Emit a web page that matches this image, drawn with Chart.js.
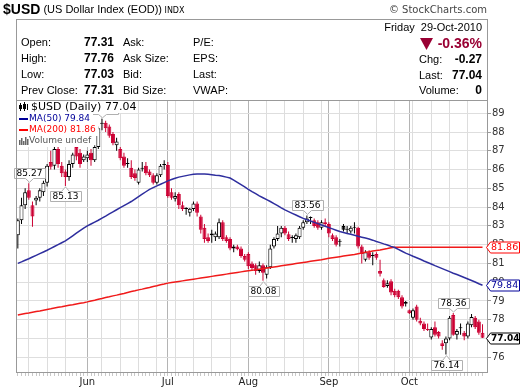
<!DOCTYPE html>
<html>
<head>
<meta charset="utf-8">
<script src="https://cdn.jsdelivr.net/npm/chart.js@4.4.0/dist/chart.umd.min.js"></script>
<style>
  html, body { margin: 0; padding: 0; background: #fff; }
  canvas { display: block; }
</style>
</head>
<body>
<canvas id="chart" width="520" height="391"></canvas>
<script>
// trading days, May 5 - Oct 29 2010
const dates = [
  'May 5','May 6','May 7','May 10','May 11','May 12','May 13','May 14','May 17','May 18',
  'May 19','May 20','May 21','May 24','May 25','May 26','May 27','May 28','May 31',
  'Jun 1','Jun 2','Jun 3','Jun 4','Jun 7','Jun 8','Jun 9','Jun 10','Jun 11','Jun 14','Jun 15',
  'Jun 16','Jun 17','Jun 18','Jun 21','Jun 22','Jun 23','Jun 24','Jun 25','Jun 28','Jun 29','Jun 30',
  'Jul 1','Jul 2','Jul 5','Jul 6','Jul 7','Jul 8','Jul 9','Jul 12','Jul 13','Jul 14',
  'Jul 15','Jul 16','Jul 19','Jul 20','Jul 21','Jul 22','Jul 23','Jul 26','Jul 27','Jul 28','Jul 29','Jul 30',
  'Aug 2','Aug 3','Aug 4','Aug 5','Aug 6','Aug 9','Aug 10','Aug 11','Aug 12','Aug 13',
  'Aug 16','Aug 17','Aug 18','Aug 19','Aug 20','Aug 23','Aug 24','Aug 25','Aug 26','Aug 27','Aug 30','Aug 31',
  'Sep 1','Sep 2','Sep 3','Sep 6','Sep 7','Sep 8','Sep 9','Sep 10','Sep 13','Sep 14',
  'Sep 15','Sep 16','Sep 17','Sep 20','Sep 21','Sep 22','Sep 23','Sep 24','Sep 27','Sep 28','Sep 29','Sep 30',
  'Oct 1','Oct 4','Oct 5','Oct 6','Oct 7','Oct 8','Oct 11','Oct 12','Oct 13','Oct 14',
  'Oct 15','Oct 18','Oct 19','Oct 20','Oct 21','Oct 22','Oct 25','Oct 26','Oct 27','Oct 28','Oct 29'
];

const opens = [
  82.5,83.3,84.1,84.9,84.1,84.35,84.5,84.8,85.3,86.4,
  86.2,87.1,86.2,85.9,85.6,86.3,87.2,86.9,86.5,86.6,
  86.9,86.5,87.2,88.45,88.5,88.3,87.9,87.3,87.1,86.7,
  86.3,86.1,85.8,85.3,86.1,86.2,85.9,85.7,85.3,85.7,
  86.3,86.25,84.8,84.45,84.7,84.1,83.95,83.7,83.9,84.2,
  83.5,82.9,82.4,82.6,82.4,82.4,83.2,82.4,82.3,81.8,
  81.9,81.8,81.4,81.5,81.0,80.9,80.6,80.9,80.4,80.8,
  81.9,82.3,82.6,82.9,82.55,82.4,82.3,82.4,82.9,83.2,
  83.45,83.3,83.2,82.9,83.2,83.1,82.5,82.4,82.2,83.0,
  82.8,82.7,82.9,82.9,81.9,81.2,81.6,81.45,81.5,80.6,
  80.1,79.8,80.05,79.55,79.55,79.2,78.85,78.5,78.1,78.7,
  77.95,77.8,77.5,77.05,77.6,77.35,76.75,76.75,77.0,78.25,
  77.2,77.6,77.3,77.1,77.7,78.1,77.9,77.31
];
const highs = [
  83.4,84.5,85.0,85.27,84.3,84.6,85.0,85.4,86.3,87.0,
  87.2,87.25,86.4,86.0,86.5,86.9,87.4,87.1,86.8,87.0,
  87.1,87.3,88.3,88.71,88.6,88.4,88.0,87.7,87.2,86.9,
  86.6,86.5,86.0,86.1,86.4,86.4,86.0,85.8,85.8,86.3,
  86.5,86.4,85.0,84.8,84.8,84.3,84.0,83.95,84.3,84.3,
  83.6,83.1,82.6,82.8,82.7,83.4,83.3,82.5,82.4,82.0,
  82.0,81.9,81.5,81.6,81.1,81.0,81.1,81.0,80.9,82.0,
  82.4,83.0,83.0,83.0,82.7,82.5,82.6,83.0,83.3,83.56,
  83.5,83.4,83.3,83.3,83.4,83.2,82.6,82.5,82.3,83.1,
  83.0,83.0,83.2,82.95,82.0,81.7,81.7,81.6,81.6,81.2,
  80.2,80.1,80.15,79.65,79.6,79.3,79.0,78.55,78.6,78.8,
  78.1,77.9,77.8,77.6,77.9,77.4,76.9,77.1,78.2,78.36,
  77.5,77.8,77.4,77.9,78.3,78.2,78.0,77.76
];
const lows = [
  81.8,83.1,83.9,84.4,82.95,84.1,84.3,84.6,85.1,86.0,
  86.0,86.1,85.6,85.13,85.4,86.1,86.5,86.1,86.4,86.4,
  86.2,86.4,87.1,88.1,88.0,87.7,87.3,87.0,86.5,86.1,
  86.1,85.5,85.4,85.2,85.9,85.7,85.6,85.2,85.2,85.6,
  86.0,84.5,84.4,84.3,83.9,83.8,83.6,83.5,83.8,83.5,
  82.6,82.1,82.1,82.1,82.2,82.3,82.2,82.1,81.7,81.6,
  81.7,81.3,81.1,80.7,80.6,80.4,80.5,80.08,80.2,80.7,
  81.8,82.2,82.4,82.5,82.2,82.1,82.1,82.3,82.8,83.1,
  83.1,82.9,82.8,82.8,83.0,82.4,82.2,81.9,81.9,82.7,
  82.6,82.6,82.6,81.8,81.0,81.1,81.2,80.9,81.2,80.3,
  79.7,79.7,79.3,79.2,79.1,78.6,78.7,78.3,78.0,77.9,
  77.7,77.4,77.4,76.95,77.1,77.0,76.4,76.14,76.9,77.15,
  76.95,77.2,76.9,77.0,77.6,77.5,77.2,77.03
];
const closes = [
  83.3,84.1,84.8,84.5,83.5,84.5,84.9,85.3,86.2,86.15,
  87.1,86.3,85.8,85.6,86.3,86.8,86.7,86.3,86.7,86.8,
  86.5,87.2,88.2,88.5,88.2,87.8,87.4,87.5,86.6,86.2,
  86.35,85.6,85.55,86.0,86.05,85.8,85.7,85.3,85.7,86.2,
  86.25,84.6,84.5,84.6,84.1,83.9,83.9,83.92,84.2,83.7,
  82.8,82.3,82.2,82.5,82.6,83.2,82.3,82.2,81.8,81.9,
  81.75,81.4,81.2,80.85,80.75,80.6,80.9,80.5,80.8,81.8,
  82.3,82.6,82.9,82.6,82.3,82.35,82.5,82.9,83.2,83.4,
  83.42,83.0,82.9,83.2,83.1,82.6,82.3,82.0,82.15,82.8,
  82.85,82.9,82.95,81.9,81.5,81.6,81.3,81.4,81.3,80.45,
  79.75,79.95,79.45,79.3,79.2,78.7,78.95,78.35,78.5,78.0,
  77.8,77.5,77.45,77.5,77.2,77.1,76.6,77.0,78.1,77.2,
  77.4,77.55,77.1,77.8,78.15,77.6,77.31,77.04
];

const ma50 = [
  81.00,81.08,81.17,81.25,81.34,81.43,81.52,81.61,81.70,81.80,
  81.90,82.00,82.10,82.20,82.33,82.47,82.61,82.75,82.88,83.00,
  83.10,83.20,83.30,83.41,83.52,83.64,83.75,83.86,83.97,84.08,
  84.19,84.30,84.43,84.56,84.69,84.82,84.95,85.04,85.13,85.22,
  85.31,85.40,85.47,85.54,85.60,85.64,85.68,85.72,85.75,85.77,
  85.77,85.76,85.75,85.73,85.70,85.68,85.65,85.60,85.55,85.44,
  85.32,85.20,85.08,84.95,84.83,84.72,84.60,84.50,84.40,84.30,
  84.19,84.08,83.96,83.85,83.76,83.67,83.58,83.49,83.40,83.33,
  83.26,83.19,83.12,83.05,82.98,82.91,82.84,82.77,82.70,82.65,
  82.60,82.55,82.50,82.45,82.40,82.35,82.30,82.24,82.17,82.11,
  82.04,81.98,81.91,81.85,81.75,81.65,81.55,81.47,81.38,81.30,
  81.22,81.13,81.05,80.97,80.88,80.80,80.72,80.64,80.56,80.48,
  80.41,80.33,80.25,80.17,80.09,80.01,79.92,79.84
];
const ma200 = [
  78.25,78.29,78.33,78.36,78.40,78.44,78.47,78.51,78.55,78.58,
  78.62,78.66,78.69,78.73,78.77,78.80,78.84,78.88,78.91,78.95,
  79.00,79.04,79.09,79.13,79.18,79.22,79.27,79.31,79.36,79.40,
  79.45,79.50,79.54,79.59,79.63,79.68,79.72,79.77,79.81,79.86,
  79.90,79.95,79.98,80.01,80.04,80.07,80.10,80.13,80.16,80.19,
  80.22,80.25,80.28,80.31,80.34,80.37,80.40,80.43,80.46,80.49,
  80.52,80.55,80.58,80.61,80.63,80.66,80.69,80.72,80.75,80.78,
  80.81,80.84,80.87,80.90,80.93,80.96,80.99,81.02,81.05,81.08,
  81.11,81.14,81.17,81.20,81.24,81.27,81.30,81.33,81.36,81.39,
  81.42,81.45,81.48,81.52,81.55,81.59,81.62,81.66,81.69,81.72,
  81.76,81.79,81.83,81.86,81.86,81.86,81.86,81.86,81.86,81.86,
  81.86,81.86,81.86,81.86,81.86,81.86,81.86,81.86,81.86,81.86,
  81.86,81.86,81.86,81.86,81.86,81.86,81.86,81.86
];

const yTicks = [76,77,78,79,80,81,82,83,84,85,86,87,88,89];

// swing high / low labels
const markIdx  = [23, 3, 13, 67, 79, 117, 119];
const markHigh = [true, true, false, false, true, false, true];

const RED = '#cc0033';
const monthNames = ['Jan','Feb','Mar','Apr','May','Jun','Jul','Aug','Sep','Oct','Nov','Dec'];

function dayInfo(i) {
  if (i < 0 || i >= dates.length) return null;
  const p = dates[i].split(' ');
  return { mon: p[0], dow: new Date(2010, monthNames.indexOf(p[0]), +p[1]).getDay() };
}
function isMonthStart(i) {
  if (i <= 0 || i >= dates.length) return false;
  return dayInfo(i).mon !== dayInfo(i - 1).mon;
}
function isMonday(i) {
  const d = dayInfo(i);
  return d && d.dow === 1;
}

const candleColor = closes.map((c, i) => (i > 0 && c < closes[i - 1]) ? RED : '#000');
const bodyFill = closes.map((c, i) => c < opens[i] ? candleColor[i] : '#fff');

const labels = dates.concat(['']);

const overlay = {
  id: 'overlay',
  beforeDraw(chart) {
    const ctx = chart.ctx;
    ctx.save();
    ctx.fillStyle = '#fff';
    ctx.fillRect(0, 0, chart.width, chart.height);

    // title line
    ctx.textBaseline = 'middle';
    ctx.textAlign = 'left';
    ctx.fillStyle = '#000';
    ctx.font = 'bold 14px "Liberation Sans"';
    ctx.fillText('$USD', 3, 10);
    let x = 3 + ctx.measureText('$USD').width;
    ctx.font = '11px "Liberation Sans"';
    ctx.fillText(' (US Dollar Index (EOD))', x, 10);
    x += ctx.measureText(' (US Dollar Index (EOD))').width;
    ctx.font = '8px "DejaVu Sans"';
    ctx.fillText(' INDX', x, 11);
    ctx.textAlign = 'right';
    ctx.fillStyle = '#444';
    ctx.font = '10px "DejaVu Sans"';
    ctx.fillText('\u00a9 StockCharts.com', 487, 10);

    // quote panel
    const rows = [
      ['Open:', '77.31', 'Ask:', 'P/E:'],
      ['High:', '77.76', 'Ask Size:', 'EPS:'],
      ['Low:', '77.03', 'Bid:', 'Last:'],
      ['Prev Close:', '77.31', 'Bid Size:', 'VWAP:']
    ];
    const rowY = [43, 59, 75, 91];
    rows.forEach((r, k) => {
      ctx.fillStyle = '#000';
      ctx.textAlign = 'left';
      ctx.font = '11px "Liberation Sans"';
      ctx.fillText(r[0], 21, rowY[k]);
      ctx.fillText(r[2], 123, rowY[k]);
      ctx.fillText(r[3], 193, rowY[k]);
      ctx.textAlign = 'right';
      ctx.font = 'bold 12px "Liberation Sans"';
      ctx.fillText(r[1], 114, rowY[k]);
    });

    ctx.textAlign = 'right';
    ctx.font = '11px "Liberation Sans"';
    ctx.fillStyle = '#000';
    ctx.fillText('Friday  29-Oct-2010', 482, 28);
    ctx.fillStyle = '#990033';
    ctx.font = 'bold 14px "Liberation Sans"';
    ctx.fillText('-0.36%', 482, 44);
    ctx.beginPath();
    ctx.moveTo(420, 38); ctx.lineTo(433, 38); ctx.lineTo(426.5, 50); ctx.closePath();
    ctx.fill();

    const right = [['Chg:', '-0.27', 60], ['Last:', '77.04', 76], ['Volume:', '0', 91]];
    right.forEach(r => {
      ctx.fillStyle = '#000';
      ctx.textAlign = 'left';
      ctx.font = '11px "Liberation Sans"';
      ctx.fillText(r[0], 419, r[2]);
      ctx.textAlign = 'right';
      ctx.font = 'bold 12px "Liberation Sans"';
      ctx.fillText(r[1], 482, r[2]);
    });
    ctx.restore();
  },
  afterDatasetsDraw(chart) {
    const ctx = chart.ctx;
    const ys = chart.scales.y;
    const pts = chart.getDatasetMeta(0).data;
    ctx.save();
    ctx.font = '9px "DejaVu Sans"';
    markIdx.forEach((i, k) => {
      const up = markHigh[k];
      const v = up ? highs[i] : lows[i];
      const txt = v.toFixed(2);
      const px = Math.round(pts[i].x) + 0.5;
      const py = ys.getPixelForValue(v);
      const w = Math.round(ctx.measureText(txt).width) + 5;
      const h = 10;
      const bx = Math.round(px - w / 2) + 0.5;
      const by = up ? Math.round(py - 5 - h) + 0.5 : Math.round(py + 5) + 0.5;
      ctx.beginPath();
      if (up) {
        ctx.moveTo(bx, by); ctx.lineTo(bx + w, by); ctx.lineTo(bx + w, by + h);
        ctx.lineTo(px + 4, by + h); ctx.lineTo(px, py - 1); ctx.lineTo(px - 4, by + h);
        ctx.lineTo(bx, by + h);
      } else {
        ctx.moveTo(bx, by + h); ctx.lineTo(bx + w, by + h); ctx.lineTo(bx + w, by);
        ctx.lineTo(px + 4, by); ctx.lineTo(px, py + 1); ctx.lineTo(px - 4, by);
        ctx.lineTo(bx, by);
      }
      ctx.closePath();
      ctx.fillStyle = '#fff';
      ctx.strokeStyle = '#b0b0b0';
      ctx.lineWidth = 1;
      ctx.fill();
      ctx.stroke();
      ctx.fillStyle = '#000';
      ctx.textAlign = 'center';
      ctx.textBaseline = 'middle';
      ctx.fillText(txt, px, by + h / 2 + 0.5);
    });
    ctx.restore();
  },
  afterDraw(chart) {
    const ctx = chart.ctx;
    const a = chart.chartArea;
    const ys = chart.scales.y;
    ctx.save();

    // legend block
    const leg = [
      ['$USD (Daily) ' + closes[closes.length - 1].toFixed(2), '#000', 107, 11],
      ['MA(50) ' + ma50[ma50.length - 1].toFixed(2), '#000099', 119, 9],
      ['MA(200) ' + ma200[ma200.length - 1].toFixed(2), '#ff0000', 130, 9],
      ['Volume undef', '#555', 141, 9]
    ];
    ctx.textBaseline = 'middle';
    ctx.textAlign = 'left';
    leg.forEach(l => {
      ctx.font = l[3] + 'px "DejaVu Sans"';
      const w = ctx.measureText(l[0]).width;
      ctx.fillStyle = '#fff';
      ctx.fillRect(a.left + 1, l[2] - 6, w + 15, 12);
    });
    leg.forEach((l, k) => {
      ctx.font = l[3] + 'px "DejaVu Sans"';
      ctx.fillStyle = l[1];
      ctx.fillText(l[0], k === 0 ? 31 : 29, l[2]);
    });
    // icons
    ctx.fillStyle = '#000';
    ctx.fillRect(20, 103, 1, 8); ctx.fillRect(19, 105, 3, 4);
    ctx.fillRect(24, 102, 1, 9); ctx.strokeStyle = '#000'; ctx.lineWidth = 1;
    ctx.strokeRect(23.5, 104.5, 2, 4);
    ctx.fillRect(27, 104, 1, 6);
    ctx.fillStyle = '#000099'; ctx.fillRect(19, 118, 9, 2);
    ctx.fillStyle = '#ff0000'; ctx.fillRect(19, 129, 9, 2);
    ctx.fillStyle = '#666';
    [[19, 5], [21, 7], [23, 4], [25, 8], [27, 6]].forEach(b => ctx.fillRect(b[0], 145 - b[1], 1.5, b[1]));

    // frame
    ctx.strokeStyle = '#999';
    ctx.lineWidth = 1;
    ctx.strokeRect(a.left + 0.5, 19.5, a.right - a.left - 1, a.bottom - 19 - 1);
    ctx.beginPath();
    ctx.moveTo(a.left, a.top + 0.5); ctx.lineTo(a.right, a.top + 0.5);
    ctx.stroke();

    // value tags on the right axis
    const tags = [
      [ma200[ma200.length - 1], '#ff0000', false],
      [ma50[ma50.length - 1], '#000099', false],
      [closes[closes.length - 1], '#000', true]
    ];
    tags.forEach(t => {
      const y = Math.round(ys.getPixelForValue(t[0])) + 0.5;
      const x0 = a.right - 1.5;
      ctx.beginPath();
      ctx.moveTo(x0, y);
      ctx.lineTo(x0 + 4, y - 5.5);
      ctx.lineTo(519.5, y - 5.5);
      ctx.lineTo(519.5, y + 5.5);
      ctx.lineTo(x0 + 4, y + 5.5);
      ctx.closePath();
      ctx.fillStyle = '#fff';
      ctx.fill();
      ctx.strokeStyle = t[1];
      ctx.lineWidth = 1;
      ctx.stroke();
      ctx.fillStyle = t[1];
      ctx.font = t[2] ? 'bold 9px "DejaVu Sans"' : '9.5px "DejaVu Sans"';
      ctx.textAlign = 'left';
      ctx.fillText(t[0].toFixed(2), x0 + 4.5, y + 0.5);
    });
    ctx.restore();
  }
};

new Chart(document.getElementById('chart'), {
  type: 'bar',
  data: {
    labels: labels,
    datasets: [
      {
        label: 'body',
        data: opens.map((o, i) => [o, closes[i]]),
        backgroundColor: bodyFill,
        borderColor: candleColor,
        borderWidth: 1,
        borderSkipped: false,
        barThickness: 4,
        minBarLength: 1,
        inflateAmount: 0,
        grouped: false,
        order: 2
      },
      {
        label: 'wick',
        data: lows.map((l, i) => [l, highs[i]]),
        backgroundColor: candleColor,
        barThickness: 1,
        inflateAmount: 0,
        grouped: false,
        order: 3
      },
      {
        type: 'line',
        label: 'MA(50)',
        data: ma50,
        borderColor: '#2e2e9e',
        borderWidth: 1.5,
        pointRadius: 0,
        tension: 0,
        order: 1
      },
      {
        type: 'line',
        label: 'MA(200)',
        data: ma200,
        borderColor: '#f01a1a',
        borderWidth: 1.5,
        pointRadius: 0,
        tension: 0,
        order: 1
      }
    ]
  },
  options: {
    responsive: false,
    animation: false,
    devicePixelRatio: 1,
    layout: { padding: { top: 100, left: 16, right: 0, bottom: 0 } },
    plugins: { legend: { display: false }, tooltip: { enabled: false } },
    scales: {
      x: {
        type: 'category',
        offset: true,
        border: { display: false },
        grid: {
          offset: false,
          drawOnChartArea: true,
          tickLength: 3,
          color: c => {
            const i = c.index;
            if (isMonthStart(i)) return '#b4b4b4';
            if (isMonday(i) && !isMonthStart(i + 1)) return '#dddddd';
            return 'rgba(0,0,0,0)';
          },
          tickColor: c => (c.index < dates.length ? '#c8c8c8' : 'rgba(0,0,0,0)')
        },
        ticks: {
          autoSkip: false,
          maxRotation: 0,
          minRotation: 0,
          padding: 0,
          color: '#222',
          font: { family: 'DejaVu Sans', size: 10 },
          callback: (v, i) => isMonthStart(i) ? dayInfo(i).mon : ''
        },
        afterFit: s => { s.height = 18; }
      },
      y: {
        position: 'right',
        min: 75.16,
        max: 89.71,
        border: { display: false },
        afterBuildTicks: s => { s.ticks = yTicks.map(v => ({ value: v })); },
        grid: { color: '#dedede', tickColor: '#999', tickLength: 3 },
        ticks: {
          padding: 1,
          color: '#333',
          font: { family: 'DejaVu Sans', size: 10 },
          callback: v => String(v)
        },
        afterFit: s => { s.width = 32; }
      }
    }
  },
  plugins: [overlay]
});
</script>
</body>
</html>
